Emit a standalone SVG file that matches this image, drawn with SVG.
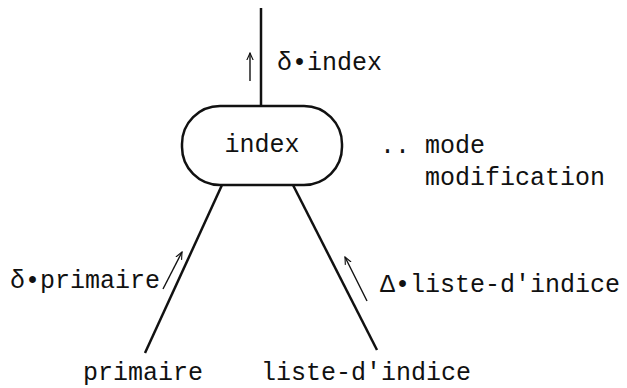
<svg xmlns="http://www.w3.org/2000/svg" width="627" height="388" viewBox="0 0 627 388">
<defs>
<style>
text{font-family:"Liberation Mono","Courier New",monospace;font-size:25px;fill:#111}
.edge{stroke:#111;stroke-width:2.5;fill:none}
.flow{stroke:#111;stroke-width:1.4;fill:none}
.node{stroke:#111;stroke-width:2.5;fill:#fff}
</style>
<marker id="ah" viewBox="0 0 10 10" refX="9" refY="5" markerWidth="8" markerHeight="8" orient="auto" markerUnits="userSpaceOnUse">
<path d="M0,1 L9,5 L0,9" fill="none" stroke="#111" stroke-width="1.4"/>
</marker>
</defs>
<rect width="627" height="388" fill="#fff"/>
<g id="connectors">
<line class="edge" x1="261" y1="8" x2="261" y2="106"/>
<line class="edge" x1="222" y1="185" x2="145" y2="353"/>
<line class="edge" x1="293" y1="185" x2="377" y2="350"/>
<line class="flow" x1="250" y1="81" x2="250" y2="53" marker-end="url(#ah)"/>
<line class="flow" x1="163" y1="289" x2="182" y2="252" marker-end="url(#ah)"/>
<line class="flow" x1="367" y1="301" x2="345" y2="257" marker-end="url(#ah)"/>
<text x="277" y="70">δ•index</text>
<text x="10" y="288">δ•primaire</text>
<text x="380" y="292">Δ•liste-d'indice</text>
</g>
<g id="node-index">
<rect class="node" x="182" y="106" width="160" height="79" rx="38" ry="38"/>
<text x="262" y="152" text-anchor="middle">index</text>
</g>
<g id="note">
<text x="380" y="153">.. mode</text>
<text x="425" y="185">modification</text>
</g>
<g id="node-primaire">
<text x="83" y="380">primaire</text>
</g>
<g id="node-liste">
<text x="261" y="380">liste-d'indice</text>
</g>
</svg>
